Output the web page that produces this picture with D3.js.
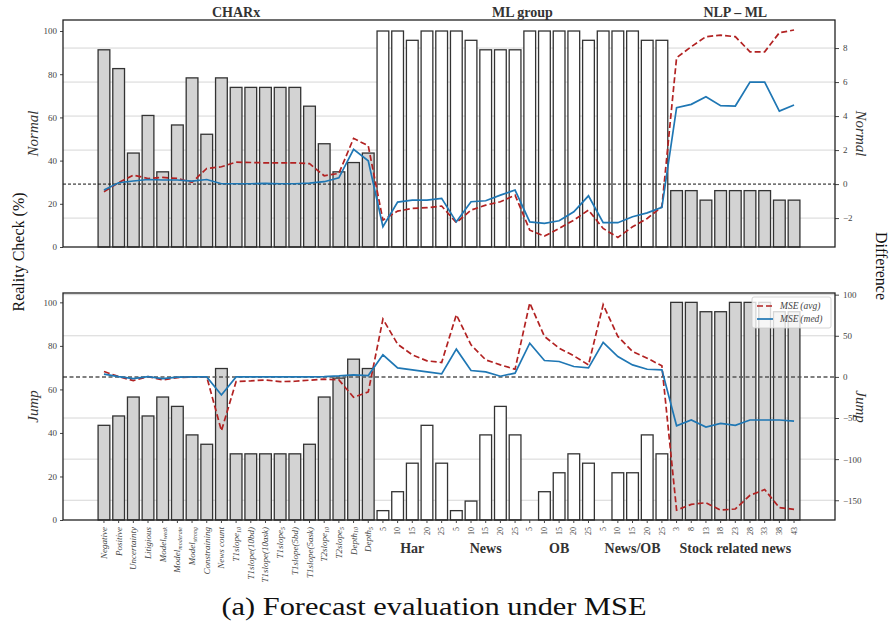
<!DOCTYPE html>
<html>
<head>
<meta charset="utf-8">
<script src="https://cdn.jsdelivr.net/npm/d3@7"></script>
<style>
body { margin: 0; background: #fff; }
svg text { font-family: "Liberation Serif", "DejaVu Serif", serif; }
</style>
</head>
<body>
<script>
var charxLabels = ["Negative", "Positive", "Uncertainty", "Litigious", "Model_weak", "Model_moderate",
    "Model_strong", "Constraining", "News count", "T1slope_10", "T1slope(10bd)", "T1slope(10ask)",
    "T1slope_5", "T1slope(5bd)", "T1slope(5ask)", "T2slope_10", "T2slope_5", "Depth_10", "Depth_5"];
var mlGroups = ["Har", "News", "OB", "News/OB"];
var mlHorizons = [5, 10, 15, 20, 25];
var stockHorizons = [3, 8, 13, 18, 23, 28, 33, 38, 43];
var panelTitles = ["CHARx", "ML group", "NLP \u2013 ML"];

// reality check (%) per model
var normalCheck = [91.3, 82.6, 43.5, 60.9, 34.8, 56.5, 78.3, 52.2, 78.3, 73.9, 73.9, 73.9, 73.9, 73.9, 65.2, 47.8, 34.8, 39.1, 43.5,
    100, 100, 95.7, 100, 100,
    100, 95.7, 91.3, 91.3, 91.3,
    100, 100, 100, 100, 95.7,
    100, 100, 100, 95.7, 95.7,
    26.1, 26.1, 21.7, 26.1, 26.1, 26.1, 26.1, 21.7, 21.7];
var jumpCheck = [43.5, 47.8, 56.5, 47.8, 56.5, 52.2, 39.1, 34.8, 69.6, 30.4, 30.4, 30.4, 30.4, 30.4, 34.8, 56.5, 65.2, 73.9, 69.6,
    4.3, 13.0, 26.1, 43.5, 26.1,
    4.3, 8.7, 39.1, 52.2, 39.1,
    0, 13.0, 21.7, 30.4, 26.1,
    0, 21.7, 21.7, 39.1, 30.4,
    100, 100, 95.7, 95.7, 100, 100, 100, 95.7, 95.7];

// difference, MSE (avg) and MSE (med)
var normalAvg = [-0.45, 0.08, 0.53, 0.33, 0.39, 0.33, 0.1, 0.92, 1.02, 1.29, 1.27, 1.25, 1.25, 1.25, 1.2, 0.49, 0.63, 2.69, 2.25,
    -2.12, -1.59, -1.43, -1.39, -1.29,
    -2.27, -1.53, -1.24, -1.04, -0.65,
    -2.71, -3.06, -2.61, -2.12, -1.53,
    -2.61, -3.14, -2.51, -2.02, -1.33,
    7.43, 8.08, 8.67, 8.76, 8.67, 7.78, 7.78, 8.9, 9.06];
var normalMed = [-0.35, 0.08, 0.18, 0.27, 0.24, 0.24, 0.18, 0.27, 0.02, 0.02, 0.02, 0.04, 0.02, 0.02, 0.06, 0.14, 0.37, 2.04, 1.37,
    -2.51, -1.06, -0.94, -0.94, -0.84,
    -2.22, -1.04, -0.98, -0.65, -0.35,
    -2.22, -2.31, -2.16, -1.63, -0.69,
    -2.27, -2.27, -1.92, -1.69, -1.37,
    4.49, 4.69, 5.14, 4.61, 4.59, 6.0, 6.0, 4.29, 4.65];
var jumpAvg = [6.5, 0.4, -4.5, 0.4, -3.7, -0.8, 0, 0, -65.5, -5.7, -4.9, -3.7, -5.7, -5.3, -4.0, -2.8, -3.7, -24.8, -18.3,
    70.3, 39.8, 26.8, 19.5, 17.5,
    75.6, 39.0, 20.7, 14.6, 9.3,
    89.8, 49.2, 35.0, 25.6, 14.6,
    87.8, 49.2, 30.9, 22.8, 13.4,
    -162, -155, -153, -162, -160.6, -144, -137, -159, -161];
var jumpMed = [3.3, 0.4, -2, 0.4, -2, -0.4, 0, 0, -22, 0, 0, 0, 0, 0, 0, 0.4, 1.2, 2.4, 1.6,
    26.8, 11.0, 8.5, 6.1, 3.7,
    33.7, 7.7, 6.1, 0.8, 4.5,
    41.0, 19.9, 18.7, 12.6, 11.0,
    41.9, 24.8, 14.6, 9.3, 8.5,
    -59.4, -52.4, -61, -56.5, -59, -52.4, -52.4, -52.4, -53.7];

var leftTicks = [0, 20, 40, 60, 80, 100];
var normalDiffTicks = [-2, 0, 2, 4, 6, 8];
var jumpDiffTicks = [-150, -100, -50, 0, 50, 100];
var legendNames = ["MSE\u2009(avg)", "MSE\u2009(med)"];

var RED = "#b22222";
var BLUE = "#1f77b4";

// build tick labels and bar kinds from the groups
var tickLabels = [];
var kinds = [];
charxLabels.forEach(function(l) { tickLabels.push(l); kinds.push("charx"); });
mlGroups.forEach(function(g) {
    mlHorizons.forEach(function(h) { tickLabels.push(String(h)); kinds.push("ml"); });
});
stockHorizons.forEach(function(h) { tickLabels.push(String(h)); kinds.push("stock"); });
var n = tickLabels.length;

var svg = d3.select("body").append("svg")
    .attr("width", 890)
    .attr("height", 630);

var x = d3.scaleLinear()
    .domain([-2.79, n - 1 + 2.79])
    .range([63, 835]);
var barW = x(0.8) - x(0);

function drawPanel(top, bottom, checks, avg, med, leftTop, rightTop, rightBottom, rightTicks, zero, leftName, rightName, withLegend) {
    var g = svg.append("g");
    var yL = d3.scaleLinear().domain([0, leftTop]).range([bottom, top]);
    var yR = d3.scaleLinear().domain([rightBottom, rightTop]).range([bottom, top]);

    // grid
    g.selectAll(".grid")
        .data(rightTicks.filter(function(t) { return t !== 0; }))
        .enter()
        .append("line")
        .attr("x1", x.range()[0])
        .attr("x2", x.range()[1])
        .attr("y1", function(d) { return yR(d); })
        .attr("y2", function(d) { return yR(d); })
        .attr("stroke", "#d6d6d6")
        .attr("stroke-width", 1);

    // bars
    g.selectAll(".bar")
        .data(checks)
        .enter()
        .append("rect")
        .attr("x", function(d, i) { return x(i) - barW / 2; })
        .attr("y", function(d) { return yL(d); })
        .attr("width", barW)
        .attr("height", function(d) { return yL(0) - yL(d); })
        .attr("fill", function(d, i) { return kinds[i] === "ml" ? "#ffffff" : "#d3d3d3"; })
        .attr("stroke", "#333")
        .attr("stroke-width", 1.3);

    // zero line
    g.append("line")
        .attr("x1", x.range()[0])
        .attr("x2", x.range()[1])
        .attr("y1", yR(0))
        .attr("y2", yR(0))
        .attr("stroke", zero.color)
        .attr("stroke-width", zero.width)
        .attr("stroke-dasharray", zero.dash);

    var line = d3.line()
        .x(function(d, i) { return x(i); })
        .y(function(d) { return yR(d); });

    g.append("path")
        .attr("d", line(avg))
        .attr("fill", "none")
        .attr("stroke", RED)
        .attr("stroke-width", 1.7)
        .attr("stroke-dasharray", "6,3");

    g.append("path")
        .attr("d", line(med))
        .attr("fill", "none")
        .attr("stroke", BLUE)
        .attr("stroke-width", 1.7);

    // axes
    var la = g.append("g")
        .attr("transform", "translate(" + x.range()[0] + ",0)")
        .call(d3.axisLeft(yL).tickValues(leftTicks).tickSize(3).tickPadding(3));
    var ra = g.append("g")
        .attr("transform", "translate(" + x.range()[1] + ",0)")
        .call(d3.axisRight(yR).tickValues(rightTicks).tickSize(4).tickPadding(4));
    [la, ra].forEach(function(a) {
        a.select(".domain").remove();
        a.selectAll("line").attr("stroke", "#444");
        a.selectAll("text")
            .attr("font-size", 9)
            .attr("fill", "#444")
            .style("font-family", "'Liberation Serif', serif");
    });

    // frame
    g.append("rect")
        .attr("x", x.range()[0])
        .attr("y", top)
        .attr("width", x.range()[1] - x.range()[0])
        .attr("height", bottom - top)
        .attr("fill", "none")
        .attr("stroke", "#222")
        .attr("stroke-width", 1.3);

    var mid = (top + bottom) / 2;
    g.append("text")
        .attr("transform", "translate(38," + mid + ") rotate(-90)")
        .attr("text-anchor", "middle")
        .attr("font-size", 15)
        .attr("font-style", "italic")
        .attr("fill", "#333")
        .text(leftName);
    g.append("text")
        .attr("transform", "translate(856," + mid + ") rotate(90)")
        .attr("text-anchor", "middle")
        .attr("font-size", 15)
        .attr("font-style", "italic")
        .attr("fill", "#333")
        .text(rightName);

    if (withLegend) {
        var lg = g.append("g").attr("transform", "translate(752,297)");
        lg.append("rect")
            .attr("width", 79)
            .attr("height", 31)
            .attr("rx", 2)
            .attr("fill", "#fff")
            .attr("fill-opacity", 0.8)
            .attr("stroke", "#ccc")
            .attr("stroke-width", 0.8);
        var items = lg.selectAll(".item")
            .data(legendNames)
            .enter()
            .append("g")
            .attr("transform", function(d, i) { return "translate(0," + (9 + i * 13) + ")"; });
        items.append("line")
            .attr("x1", 5)
            .attr("x2", 21)
            .attr("stroke", function(d, i) { return i === 0 ? RED : BLUE; })
            .attr("stroke-width", 1.7)
            .attr("stroke-dasharray", function(d, i) { return i === 0 ? "6,3" : null; });
        items.append("text")
            .attr("x", 28)
            .attr("y", 3)
            .attr("font-size", 9.5)
            .attr("font-style", "italic")
            .attr("fill", "#444")
            .text(function(d) { return d; });
    }
    return g;
}

drawPanel(20, 247, normalCheck, normalAvg, normalMed, 105.1, 9.65, -3.7, normalDiffTicks,
    { color: "#111", width: 1, dash: "3,2" }, "Normal", "Normal", false);
drawPanel(293, 520, jumpCheck, jumpAvg, jumpMed, 104.3, 102, -174, jumpDiffTicks,
    { color: "#555", width: 1.5, dash: "4,2.5" }, "Jump", "Jump", true);

// panel titles
var titleCenters = [(0 + 18) / 2, (19 + 38) / 2, (39 + 47) / 2];
svg.selectAll(".title")
    .data(panelTitles)
    .enter()
    .append("text")
    .attr("x", function(d, i) { return x(titleCenters[i]); })
    .attr("y", 17)
    .attr("text-anchor", "middle")
    .attr("font-size", 14)
    .attr("font-weight", "bold")
    .attr("fill", "#333")
    .text(function(d) { return d; });

// x ticks on the lower panel
svg.selectAll(".xtick")
    .data(tickLabels)
    .enter()
    .append("line")
    .attr("x1", function(d, i) { return x(i); })
    .attr("x2", function(d, i) { return x(i); })
    .attr("y1", 520)
    .attr("y2", 523)
    .attr("stroke", "#444");

var xl = svg.selectAll(".xlabel")
    .data(tickLabels)
    .enter()
    .append("text")
    .attr("transform", function(d, i) { return "translate(" + x(i) + ",527) rotate(-90)"; })
    .attr("text-anchor", "end")
    .attr("dy", "0.33em")
    .attr("fill", "#444")
    .attr("font-size", function(d, i) { return kinds[i] === "charx" ? 9 : 8; })
    .attr("font-style", function(d, i) { return kinds[i] === "charx" ? "italic" : null; });
xl.each(function(d) {
    var parts = d.split("_");
    var t = d3.select(this);
    t.append("tspan").text(parts[0]);
    if (parts.length > 1) {
        t.append("tspan")
            .attr("dy", "0.3em")
            .attr("font-size", 6)
            .text(parts[1]);
    }
});

// group names under the lower axis
var groupNames = mlGroups.concat(["Stock related news"]);
var groupCenters = mlGroups.map(function(gname, k) { return 19 + k * 5 + 2; }).concat([39 + 4]);
svg.selectAll(".group")
    .data(groupNames)
    .enter()
    .append("text")
    .attr("x", function(d, i) { return x(groupCenters[i]); })
    .attr("y", 553)
    .attr("text-anchor", "middle")
    .attr("font-size", 14)
    .attr("font-weight", "bold")
    .attr("fill", "#333")
    .text(function(d) { return d; });

svg.append("text")
    .attr("transform", "translate(24,252) rotate(-90)")
    .attr("text-anchor", "middle")
    .attr("font-size", 16)
    .attr("fill", "#111")
    .text("Reality Check (%)");

svg.append("text")
    .attr("transform", "translate(876,266) rotate(90)")
    .attr("text-anchor", "middle")
    .attr("font-size", 16)
    .attr("fill", "#111")
    .text("Difference");

svg.append("text")
    .attr("x", 434)
    .attr("y", 615)
    .attr("text-anchor", "middle")
    .attr("font-size", 26)
    .attr("textLength", 425)
    .attr("lengthAdjust", "spacingAndGlyphs")
    .attr("fill", "#111")
    .text("(a) Forecast evaluation under MSE");
</script>
</body>
</html>
